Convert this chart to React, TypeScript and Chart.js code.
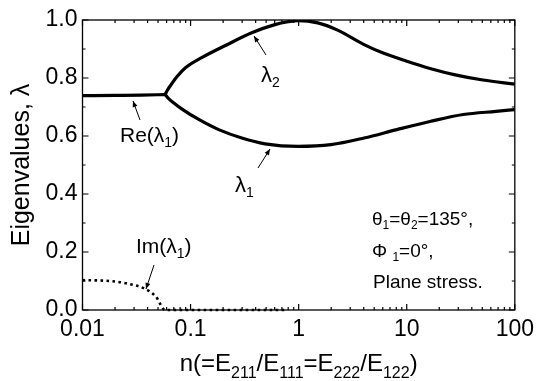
import React, { useEffect, useRef } from "react";
import { Chart, registerables } from "chart.js";

Chart.register(...registerables);

// ---- data ----
const reN = [0.01, 0.02, 0.035, 0.0582];
const reLambda = [0.739, 0.740, 0.741, 0.743];

const lam2N = [0.0582, 0.0610, 0.0660, 0.0750, 0.0902, 0.128, 0.21, 0.368, 0.603, 0.8, 0.99, 1.5, 2.29, 4.03, 6.14, 10, 16.4, 28.8, 50.7, 100];
const lam2 = [0.743, 0.758, 0.777, 0.805, 0.836, 0.871, 0.912, 0.956, 0.984, 0.994, 0.998, 0.990, 0.965, 0.915, 0.885, 0.858, 0.833, 0.810, 0.793, 0.779];

const lam1N = [0.0582, 0.0620, 0.0700, 0.084, 0.119, 0.182, 0.298, 0.488, 0.99, 1.99, 4.03, 8.1, 16.4, 33.3, 67, 100];
const lam1 = [0.743, 0.731, 0.714, 0.692, 0.657, 0.622, 0.593, 0.573, 0.564, 0.570, 0.593, 0.622, 0.650, 0.674, 0.685, 0.691];

const imN = [0.01, 0.0179, 0.0254, 0.0388, 0.0478, 0.0582, 0.75];
const imLambda = [0.103, 0.100, 0.092, 0.071, 0.046, 0.0, 0.0];

const xTickValues = [0.01, 0.1, 1, 10, 100];
const yMin = 0;
const yMax = 1.0;
const yStep = 0.2;

const FONT = "'Liberation Sans', Arial, Helvetica, sans-serif";

type Seg = { t: string; sub?: boolean };

function drawRich(ctx: CanvasRenderingContext2D, segs: Seg[], x: number, y: number, size: number, subSize: number, subDrop: number, align: "left" | "center" = "left") {
  ctx.save();
  ctx.textBaseline = "alphabetic";
  ctx.textAlign = "left";
  ctx.fillStyle = "#000";
  let total = 0;
  for (const s of segs) {
    ctx.font = `${s.sub ? subSize : size}px ${FONT}`;
    total += ctx.measureText(s.t).width;
  }
  let cx = align === "center" ? x - total / 2 : x;
  for (const s of segs) {
    ctx.font = `${s.sub ? subSize : size}px ${FONT}`;
    ctx.fillText(s.t, cx, s.sub ? y + subDrop : y);
    cx += ctx.measureText(s.t).width;
  }
  ctx.restore();
}

function arrow(ctx: CanvasRenderingContext2D, x1: number, y1: number, x2: number, y2: number) {
  ctx.save();
  ctx.strokeStyle = "#000";
  ctx.fillStyle = "#000";
  ctx.lineWidth = 1;
  ctx.beginPath();
  ctx.moveTo(x1, y1);
  ctx.lineTo(x2, y2);
  ctx.stroke();
  const ang = Math.atan2(y2 - y1, x2 - x1);
  const L = 6, W = 2.5;
  ctx.beginPath();
  ctx.moveTo(x2, y2);
  ctx.lineTo(x2 - L * Math.cos(ang) + W * Math.sin(ang), y2 - L * Math.sin(ang) - W * Math.cos(ang));
  ctx.lineTo(x2 - L * Math.cos(ang) - W * Math.sin(ang), y2 - L * Math.sin(ang) + W * Math.cos(ang));
  ctx.closePath();
  ctx.fill();
  ctx.restore();
}

const framePlugin = {
  id: "frameAndText",
  afterDatasetsDraw(chart: any) {
    const ctx: CanvasRenderingContext2D = chart.ctx;
    const { left, right, top, bottom } = chart.chartArea;
    const xs = chart.scales.x;
    const ys = chart.scales.y;
    ctx.save();
    ctx.strokeStyle = "#000";
    ctx.lineWidth = 1.3;
    ctx.strokeRect(left, top, right - left, bottom - top);

    ctx.lineWidth = 1.2;
    for (let e = -2; e <= 2; e++) {
      for (let m = 1; m <= 9; m++) {
        const v = m * Math.pow(10, e);
        if (v > 100.0001) continue;
        const px = xs.getPixelForValue(v);
        const len = m === 1 ? 6 : 3;
        ctx.beginPath();
        ctx.moveTo(px, bottom);
        ctx.lineTo(px, bottom - len);
        ctx.moveTo(px, top);
        ctx.lineTo(px, top + len);
        ctx.stroke();
      }
    }
    for (let i = 0; i <= 10; i++) {
      const v = i * 0.1;
      const py = ys.getPixelForValue(v);
      const len = i % 2 === 0 ? 6 : 3;
      ctx.beginPath();
      ctx.moveTo(left, py);
      ctx.lineTo(left + len, py);
      ctx.moveTo(right, py);
      ctx.lineTo(right - len, py);
      ctx.stroke();
    }
    ctx.restore();

    ctx.save();
    ctx.translate(22, (top + bottom) / 2);
    ctx.rotate(-Math.PI / 2);
    ctx.font = `25px ${FONT}`;
    ctx.fillStyle = "#000";
    ctx.textAlign = "center";
    ctx.textBaseline = "middle";
    ctx.fillText("Eigenvalues, \u03bb", 0, 0);
    ctx.restore();

    drawRich(ctx, [
      { t: "n(=E" }, { t: "211", sub: true }, { t: "/E" }, { t: "111", sub: true },
      { t: "=E" }, { t: "222", sub: true }, { t: "/E" }, { t: "122", sub: true }, { t: ")" },
    ], (left + right) / 2, 371, 24, 16, 7, "center");

    drawRich(ctx, [{ t: "\u03bb" }, { t: "2", sub: true }], 261, 82, 22, 14, 5);
    drawRich(ctx, [{ t: "\u03bb" }, { t: "1", sub: true }], 235, 192, 22, 14, 5);
    drawRich(ctx, [{ t: "Re(\u03bb" }, { t: "1", sub: true }, { t: ")" }], 120, 142, 21, 14, 5);
    drawRich(ctx, [{ t: "Im(\u03bb" }, { t: "1", sub: true }, { t: ")" }], 136, 253, 21, 14, 5);

    arrow(ctx, 266, 55, 254, 36);
    arrow(ctx, 140, 120, 133, 101);
    arrow(ctx, 258, 168, 270, 149);
    arrow(ctx, 154, 265, 146, 289);

    drawRich(ctx, [{ t: "\u03b8" }, { t: "1", sub: true }, { t: "=\u03b8" }, { t: "2", sub: true }, { t: "=135\u00b0," }], 372, 225, 19, 12, 4);
    drawRich(ctx, [{ t: "\u03a6 " }, { t: "1", sub: true }, { t: "=0\u00b0," }], 372, 257, 19, 12, 4);
    drawRich(ctx, [{ t: "Plane stress." }], 373, 288, 19, 12, 4);
  },
};

function toPts(xs: number[], ys: number[]) {
  return xs.map((x, i) => ({ x, y: ys[i] }));
}

export default function App() {
  const ref = useRef<HTMLCanvasElement | null>(null);
  useEffect(() => {
    if (!ref.current) return;
    const solid = {
      borderColor: "#000",
      borderWidth: 3.2,
      pointRadius: 0,
      fill: false,
      cubicInterpolationMode: "monotone" as const,
    };
    const chart = new Chart(ref.current, {
      type: "line",
      data: {
        datasets: [
          { label: "Re(λ1)", data: toPts(reN, reLambda), ...solid },
          { label: "λ2", data: toPts(lam2N, lam2), ...solid },
          { label: "λ1", data: toPts(lam1N, lam1), ...solid },
          {
            label: "Im(λ1)",
            data: toPts(imN, imLambda),
            borderColor: "#000",
            borderWidth: 2.6,
            borderDash: [2.6, 3.4],
            pointRadius: 0,
            fill: false,
            clip: 4,
            cubicInterpolationMode: "monotone" as const,
          },
        ],
      },
      options: {
        responsive: false,
        animation: false,
        events: [],
        layout: { padding: { top: 20, right: 21, left: 0, bottom: 0 } },
        plugins: { legend: { display: false }, tooltip: { enabled: false } },
        scales: {
          x: {
            type: "logarithmic",
            min: 0.01,
            max: 100,
            grid: { display: false, drawTicks: false },
            border: { display: false },
            afterBuildTicks: (scale: any) => {
              scale.ticks = xTickValues.map((v) => ({ value: v }));
            },
            afterFit: (scale: any) => {
              scale.height = 71;
            },
            ticks: {
              autoSkip: false,
              maxRotation: 0,
              padding: 6,
              color: "#000",
              font: { family: FONT, size: 23 },
              callback: (v: any) => String(v),
            },
          },
          y: {
            type: "linear",
            min: yMin,
            max: yMax,
            grid: { display: false, drawTicks: false },
            border: { display: false },
            afterFit: (scale: any) => {
              scale.width = 82.5;
            },
            ticks: {
              stepSize: yStep,
              padding: 5,
              color: "#000",
              font: { family: FONT, size: 23 },
              callback: (v: any) => Number(v).toFixed(1),
            },
          },
        },
      },
      plugins: [framePlugin],
    });
    return () => chart.destroy();
  }, []);
  return (
    <div style={{ position: "absolute", left: 0, top: 0, width: 540, height: 381, background: "#fff" }}>
      <canvas ref={ref} width={540} height={381} />
    </div>
  );
}
